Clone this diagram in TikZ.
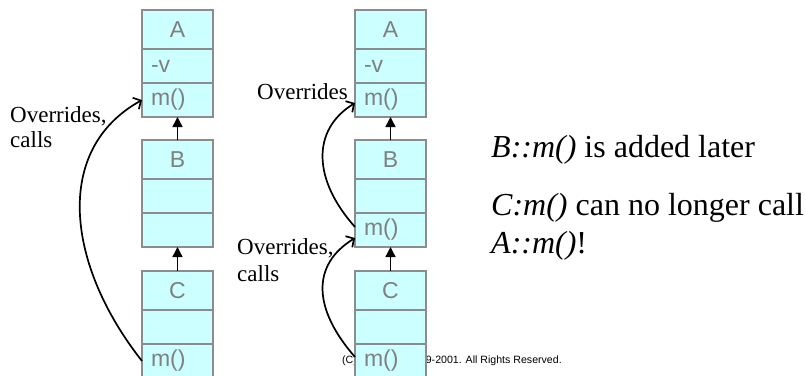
\documentclass[tikz,border=0pt]{standalone}
\usepackage{fontspec}
\setmainfont{Liberation Serif}
\setsansfont{Liberation Sans}
\usetikzlibrary{arrows.meta}
\definecolor{boxfill}{HTML}{CCFFFF}
\definecolor{boxline}{HTML}{8C8C8C}
\definecolor{boxtext}{HTML}{808080}
\tikzset{
  comp/.style={draw=boxline, fill=boxfill, line width=1.2pt, anchor=north west,
    minimum width=71pt, outer sep=0pt, inner sep=0pt, text=boxtext,
    font=\sffamily\fontsize{23}{25}\selectfont},
  titlebox/.style={comp, minimum height=39pt, align=center},
  memberbox/.style={comp, minimum height=34pt, text width=53pt, inner xsep=9pt, align=left},
  gen/.style={line width=1.4pt, -{Triangle[width=10pt,length=10pt]}},
  calls/.style={line width=1.7pt, -{Straight Barb[length=6pt,width=13pt,line width=1.7pt]}},
  lbl/.style={anchor=base west, inner sep=0pt, font=\rmfamily\fontsize{23}{25}\selectfont},
  note/.style={anchor=base west, inner sep=0pt, font=\rmfamily\fontsize{32}{38}\selectfont},
  small/.style={anchor=base west, inner sep=0pt, font=\sffamily\fontsize{10.6}{12}\selectfont}
}
\begin{document}
\begin{tikzpicture}[x=1pt, y=-1pt]
\useasboundingbox (0,0) rectangle (806,375);

% copyright line, partly hidden behind the right-hand class C
\node[small] (copy) at (342,363) {(C) Copyright 1999-2001. All Rights Reserved.};

% ---- left hierarchy: A <- B <- C
\node[titlebox]  (LA1) at (142,10)  {A};
\node[memberbox] (LA2) at (142,49)  {-v};
\node[memberbox] (LA3) at (142,83)  {m()};
\node[titlebox]  (LB1) at (142,140) {B};
\node[memberbox] (LB2) at (142,179) {};
\node[memberbox] (LB3) at (142,213) {};
\node[titlebox]  (LC1) at (142,271) {C};
\node[memberbox] (LC2) at (142,310) {};
\node[memberbox] (LC3) at (142,344) {m()};

\draw[gen] (LB1.north) -- (LA3.south);
\draw[gen] (LC1.north) -- (LB3.south);
\draw[calls] (LC3.west) .. controls +(-75,-95) and +(-90,50) .. (LA3.west);

\node[lbl] (lo1) at (10,122) {Overrides,};
\node[lbl] (lo2) at (10,147) {calls};

% ---- right hierarchy: B::m() inserted between A and C
\node[titlebox]  (RA1) at (355,10)  {A};
\node[memberbox] (RA2) at (355,49)  {-v};
\node[memberbox] (RA3) at (355,83)  {m()};
\node[titlebox]  (RB1) at (355,140) {B};
\node[memberbox] (RB2) at (355,179) {};
\node[memberbox] (RB3) at (355,213) {m()};
\node[titlebox]  (RC1) at (355,271) {C};
\node[memberbox] (RC2) at (355,310) {};
\node[memberbox] (RC3) at (355,344) {m()};

\draw[gen] (RB1.north) -- (RA3.south);
\draw[gen] (RC1.north) -- (RB3.south);
\draw[calls] ([yshift=3pt]RB3.west) .. controls +(-42,-47) and +(-44,27) .. ([yshift=-3pt]RA3.west);
\draw[calls] ([yshift=4pt]RC3.west) .. controls +(-42,-48) and +(-44,27) .. ([yshift=-8pt]RB3.west);

\node[lbl] (ro0) at (257,99)  {Overrides};
\node[lbl] (ro1) at (237,254) {Overrides,};
\node[lbl] (ro2) at (237,281) {calls};

% ---- remarks
\node[note] (n1) at (491,157) {\textit{B::m()} is added later};
\node[note] (n2) at (491,215) {\textit{C:m()} can no longer call};
\node[note] (n3) at (491,253) {\textit{A::m()}!};
\end{tikzpicture}
\end{document}
